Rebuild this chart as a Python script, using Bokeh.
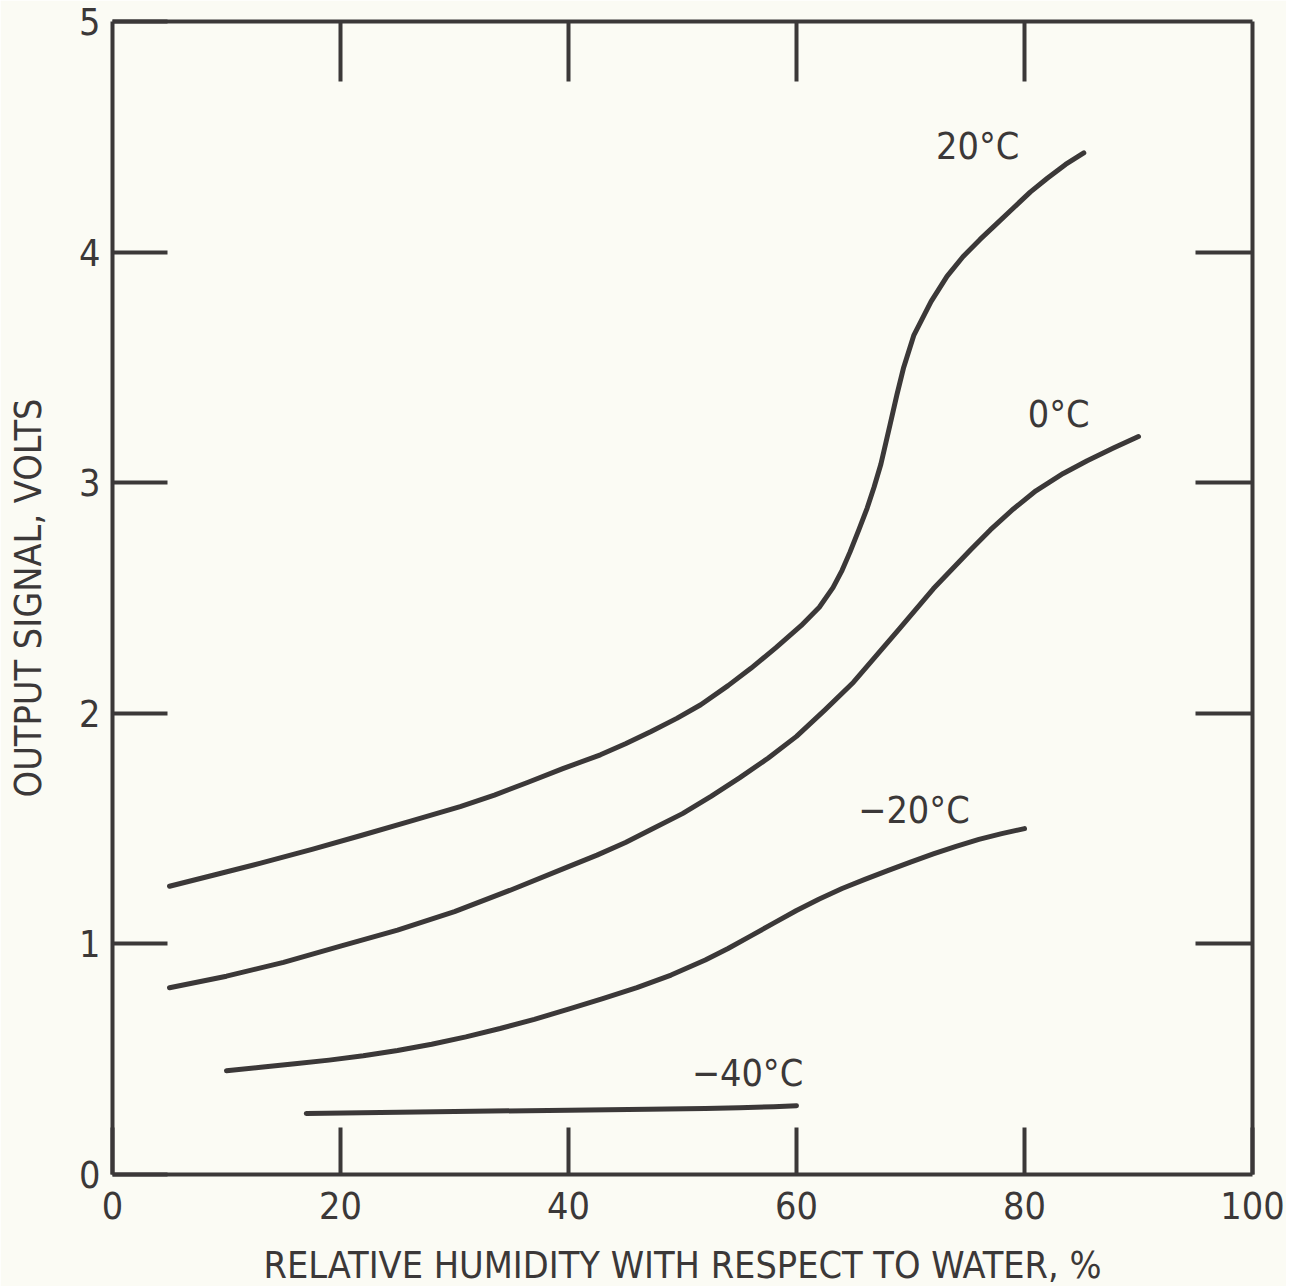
from bokeh.plotting import figure
from bokeh.models import Range1d, LinearAxis, FixedTicker
from bokeh.core.properties import value
from bokeh.embed import file_html
from bokeh.resources import INLINE

# ---- data ----
rh_20 = [5, 9, 13, 17.5, 21.8, 26, 30.5, 33.5, 36.4, 39.5, 42.8, 45, 47.2, 49.5, 51.6, 54,
         56, 58.2, 60.4, 62, 63.2, 64, 64.7, 65.5, 66.2, 66.8, 67.4, 68.2, 68.8, 69.4, 70.3,
         71.8, 73.2, 74.6, 76.1, 77.5, 79, 80.5, 82, 83.6, 85.2]
v_20 = [1.25, 1.30, 1.35, 1.41, 1.47, 1.53, 1.595, 1.645, 1.70, 1.76, 1.82, 1.868, 1.92, 1.978,
        2.037, 2.12, 2.195, 2.285, 2.38, 2.46, 2.545, 2.62, 2.70, 2.80, 2.89, 2.98, 3.08, 3.25,
        3.38, 3.50, 3.64, 3.785, 3.895, 3.98, 4.055, 4.12, 4.19, 4.26, 4.32, 4.38, 4.43]

rh_0 = [5, 10, 15, 20, 25, 30, 35, 40, 42.5, 45, 47.2, 50, 52.5, 55, 57.5, 60, 62.5, 65, 67,
        69, 72, 75.3, 77, 79, 81, 83.4, 85.5, 87.8, 90]
v_0 = [0.81, 0.86, 0.92, 0.99, 1.06, 1.14, 1.235, 1.335, 1.385, 1.44, 1.495, 1.565, 1.64, 1.72,
       1.805, 1.90, 2.015, 2.135, 2.25, 2.365, 2.54, 2.71, 2.795, 2.885, 2.965, 3.04, 3.095,
       3.15, 3.20]

rh_m20 = [10, 13, 16, 19, 22, 25, 28, 31, 34, 37, 40, 43, 46, 49, 52, 54, 56, 58, 60, 62, 64,
          66, 68, 70, 72, 74, 76, 78, 80]
v_m20 = [0.45, 0.465, 0.48, 0.496, 0.515, 0.538, 0.565, 0.597, 0.633, 0.673, 0.717, 0.763,
         0.81, 0.865, 0.93, 0.98, 1.035, 1.09, 1.145, 1.195, 1.24, 1.28, 1.318, 1.355, 1.39,
         1.423, 1.453, 1.478, 1.50]

rh_m40 = [17, 30, 40, 47, 52, 55, 58, 60]
v_m40 = [0.265, 0.273, 0.279, 0.283, 0.286, 0.289, 0.294, 0.298]

curve_labels = ["20°C", "0°C", "\u221220°C", "\u221240°C"]
label_x = [75.9, 83.0, 70.3, 55.7]
label_y = [4.46, 3.30, 1.58, 0.44]

x_ticks = [0, 20, 40, 60, 80, 100]
y_ticks = [0, 1, 2, 3, 4, 5]
top_ticks = [20, 40, 60, 80]
right_ticks = [1, 2, 3, 4]

x_title = "RELATIVE HUMIDITY WITH RESPECT TO WATER, %"
y_title = "OUTPUT SIGNAL, VOLTS"

# ---- styling ----
INK = "#3b3838"
PAPER = "#fbfbf4"
FONT = "DejaVu Sans Condensed"
FS = "37.5px"

p = figure(frame_width=1140, frame_height=1153,
           x_range=Range1d(0, 100), y_range=Range1d(0, 5),
           output_backend="svg", toolbar_location=None,
           x_axis_location=None, y_axis_location=None,
           min_border_left=112, min_border_right=34,
           min_border_top=21, min_border_bottom=60)
p.background_fill_color = PAPER
p.border_fill_color = PAPER
p.outline_line_color = None
p.xgrid.visible = False
p.ygrid.visible = False


def style_axis(ax, tick_len):
    ax.axis_line_color = INK
    ax.axis_line_width = 4
    ax.major_tick_line_color = INK
    ax.major_tick_line_width = 4
    ax.major_tick_in = tick_len
    ax.major_tick_out = 0
    ax.minor_tick_line_color = None
    ax.major_label_text_font = FONT
    ax.major_label_text_font_size = FS
    ax.major_label_text_color = INK
    ax.axis_label_text_font = FONT
    ax.axis_label_text_font_size = FS
    ax.axis_label_text_font_style = "normal"
    ax.axis_label_text_color = INK


left = LinearAxis(ticker=FixedTicker(ticks=y_ticks), axis_label=y_title)
style_axis(left, 55)
left.major_label_standoff = 12
left.axis_label_standoff = 26
p.add_layout(left, "left")

bottom = LinearAxis(ticker=FixedTicker(ticks=x_ticks), axis_label=x_title)
style_axis(bottom, 47)
bottom.major_label_standoff = 17
bottom.axis_label_standoff = 21
p.add_layout(bottom, "below")

top = LinearAxis(ticker=FixedTicker(ticks=top_ticks))
style_axis(top, 60)
top.major_label_overrides = {t: "" for t in top_ticks}
top.major_label_standoff = 0
p.add_layout(top, "above")

right = LinearAxis(ticker=FixedTicker(ticks=right_ticks))
style_axis(right, 57)
right.major_label_overrides = {t: "" for t in right_ticks}
right.major_label_standoff = 0
p.add_layout(right, "right")

for xs, ys in [(rh_20, v_20), (rh_0, v_0), (rh_m20, v_m20), (rh_m40, v_m40)]:
    p.line(xs, ys, line_color=INK, line_width=5, line_cap="round", line_join="round")

p.text(x=label_x, y=label_y, text=curve_labels, text_align="center",
       text_baseline="middle", text_font=value(FONT), text_font_size=FS,
       text_color=INK)

open("out.html", "w").write(file_html(p, INLINE))
